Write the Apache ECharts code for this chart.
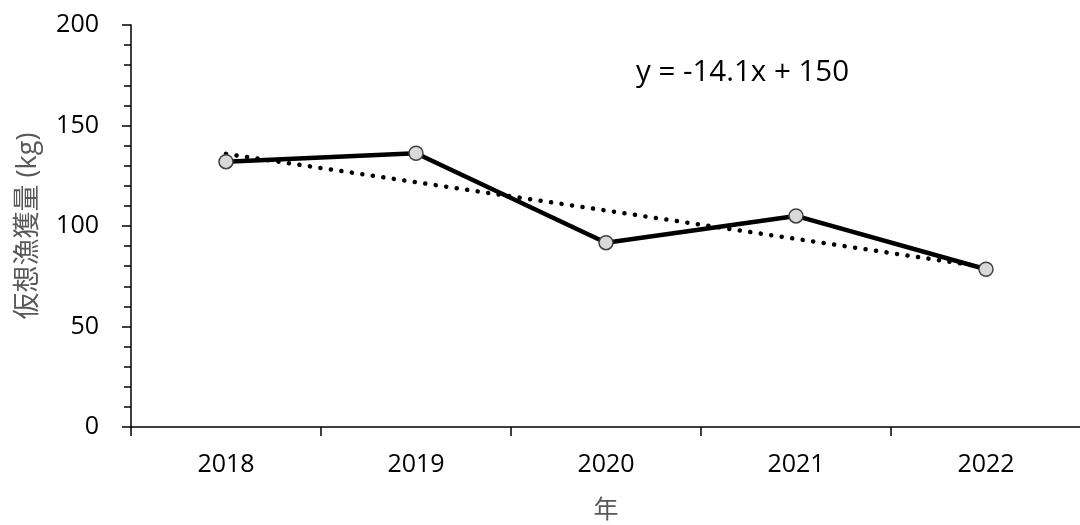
<!DOCTYPE html>
<html>
<head>
<meta charset="utf-8">
<script src="https://cdn.jsdelivr.net/npm/echarts@6/dist/echarts.min.js"></script>
<style>
html,body{margin:0;padding:0;background:#fff;}
#chart{width:1080px;height:525px;}
</style>
</head>
<body>
<div id="chart"></div>
<script>
var categories = ['2018', '2019', '2020', '2021', '2022'];
var catchValues = [132, 136.2, 91.7, 105, 78.5];
var trendStart = ['2018', 135.9];
var trendEnd = ['2022', 79.5];
var equationText = 'y = -14.1x + 150';
var yAxisName = '仮想漁獲量 (kg)';
var xAxisName = '年';

var FONT = '"Open Sans", "Noto Sans", "Noto Sans CJK JP", sans-serif';
var chart = echarts.init(document.getElementById('chart'), null, {renderer: 'canvas'});
chart.setOption({
  animation: false,
  backgroundColor: '#ffffff',
  grid: {left: 131, top: 25, width: 950, height: 402, containLabel: false, outerBoundsMode: 'none'},
  xAxis: {
    type: 'category',
    data: categories,
    boundaryGap: true,
    name: xAxisName,
    nameLocation: 'middle',
    nameGap: 71,
    nameTextStyle: {color: '#595959', fontSize: 25, fontFamily: FONT},
    axisLine: {lineStyle: {color: '#000', width: 1.5}},
    axisTick: {show: true, length: 9, inside: false, lineStyle: {color: '#000', width: 1.5}},
    axisLabel: {color: '#000', fontSize: 25, fontFamily: FONT, margin: 25},
    splitLine: {show: false}
  },
  yAxis: {
    type: 'value',
    min: 0, max: 200, interval: 50,
    name: yAxisName,
    nameLocation: 'middle',
    nameGap: 89,
    nameRotate: 90,
    nameTextStyle: {color: '#595959', fontSize: 27, fontFamily: FONT},
    axisLine: {show: true, lineStyle: {color: '#000', width: 1.5}},
    axisTick: {show: true, length: 9, inside: false, lineStyle: {color: '#000', width: 1.5}},
    minorTick: {show: true, splitNumber: 5, length: 7, lineStyle: {color: '#000', width: 1.5}},
    axisLabel: {color: '#000', fontSize: 25, fontFamily: FONT, margin: 32},
    splitLine: {show: false},
    minorSplitLine: {show: false}
  },
  graphic: [{
    type: 'text',
    left: 636, top: 58,
    style: {text: equationText, fill: '#000', font: '29.5px ' + FONT}
  }],
  series: [{
    type: 'line',
    name: 'trend',
    data: [trendStart, trendEnd],
    symbol: 'none',
    z: 3,
    lineStyle: {color: '#000', width: 4.5, type: [0.1, 10.5], cap: 'round'},
    silent: true
  }, {
    type: 'line',
    name: 'catch',
    data: catchValues,
    symbol: 'circle',
    symbolSize: 14,
    z: 4,
    lineStyle: {color: '#000', width: 4.5},
    itemStyle: {color: '#d9d9d9', borderColor: '#404040', borderWidth: 1.5},
    silent: true
  }]
});
</script>
</body>
</html>
